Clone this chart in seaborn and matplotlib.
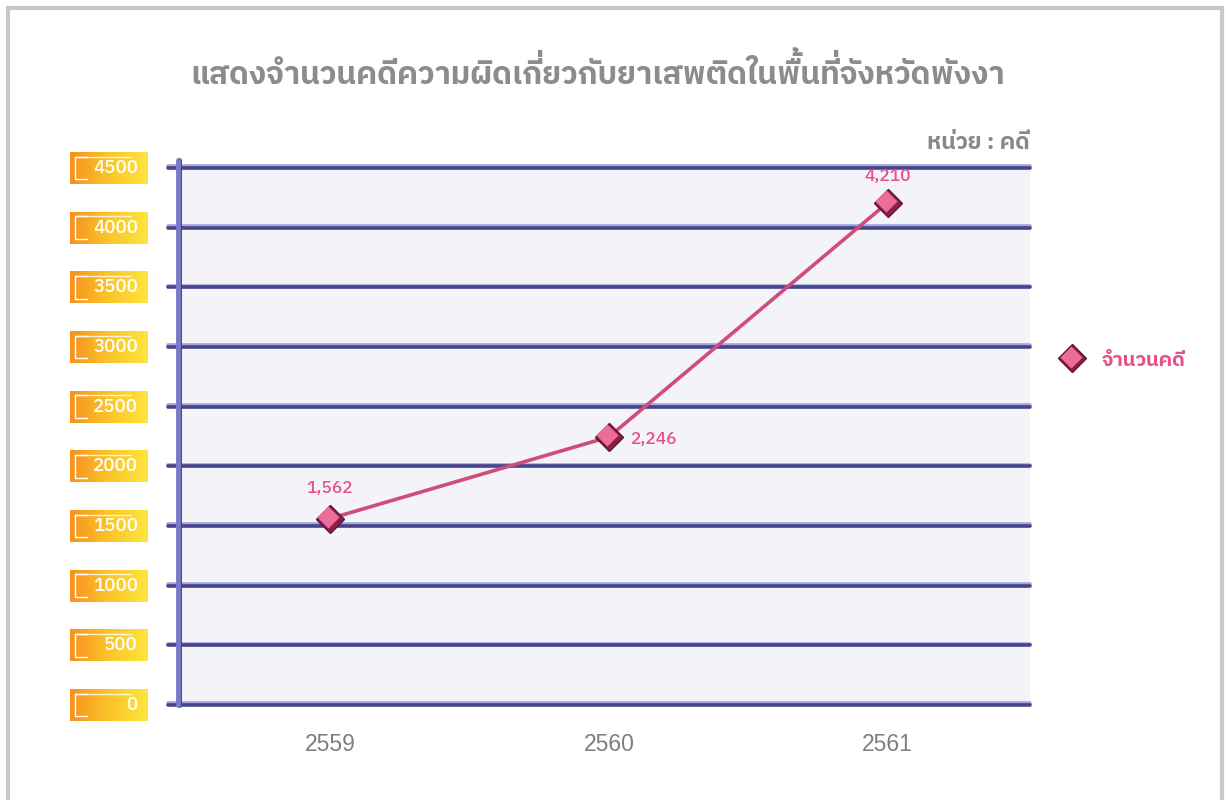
import numpy as np
import pandas as pd
import matplotlib
matplotlib.use('Agg')
import matplotlib.pyplot as plt
import matplotlib.patheffects as pe
import matplotlib.transforms as mtransforms
import seaborn as sns
from matplotlib import font_manager
from matplotlib.font_manager import FontProperties
from matplotlib.ft2font import FT2Font
from matplotlib.colors import LinearSegmentedColormap
from matplotlib.lines import Line2D
from matplotlib.patches import Rectangle

# data
years = ['2559', '2560', '2561']
cases = [1562, 2246, 4210]
case_labels = ['1,562', '2,246', '4,210']
y_ticks = [0, 500, 1000, 1500, 2000, 2500, 3000, 3500, 4000, 4500]
title = 'แสดงจำนวนคดีความผิดเกี่ยวกับยาเสพติดในพื้นที่จังหวัดพังงา'
unit_label = 'หน่วย : คดี'
series_name = 'จำนวนคดี'

W, H = 1226, 800

ABOVE = set('\u0e31\u0e34\u0e35\u0e36\u0e37\u0e47')
TONES = set('\u0e48\u0e49\u0e4a\u0e4b\u0e4c')


def find_thai_font():
    # look for any installed family that has Thai glyphs
    names = []
    for f in font_manager.fontManager.ttflist:
        try:
            cmap = FT2Font(f.fname).get_charmap()
        except Exception:
            continue
        if 0x0E08 in cmap and 0x0E33 in cmap:
            names.append(f.name)
    names.sort(key=lambda n: ('Thai' not in n, 'Looped' in n, n))
    return names[0] if names else 'DejaVu Sans'


def thai_text(fig, x, y, s, fontsize, ha='center', family=None,
              weight='bold', **kw):
    # matplotlib has no Thai shaping: tone marks sitting on an upper vowel
    # would overlap it, so draw them separately a bit higher
    base, marks = '', []
    for i, ch in enumerate(s):
        if ch in TONES and i > 0 and s[i - 1] in ABOVE:
            marks.append((base, ch))
        else:
            base += ch
    renderer = fig.canvas.get_renderer()
    t = fig.text(0, y, base, ha='left', va='baseline', fontsize=fontsize,
                 family=family, fontweight=weight, **kw)
    w = t.get_window_extent(renderer).width
    x0 = x - {'center': w / 2, 'right': w, 'left': 0}[ha]
    t.set_x(x0 / W)
    if marks:
        path = font_manager.findfont(FontProperties(family=family, weight=weight))
        ft = FT2Font(path)
        ft.set_size(fontsize, 100)
        space = ft.load_char(ord(' ')).linearHoriAdvance / 65536
        for prefix, mark in marks:
            adv = 0.0
            for ch in prefix:
                adv += ft.load_char(ord(ch)).linearHoriAdvance / 65536
            # a space carries the zero-width mark so the text has a size
            fig.text((x0 + adv - space) / W, y + 0.22 * fontsize * 100 / 72 / H,
                     ' ' + mark, ha='left', va='baseline', fontsize=fontsize,
                     family=family, fontweight=weight, **kw)
    return t


sns.set_theme(style='white')
thai = find_thai_font()
plt.rcParams['font.family'] = [thai, 'DejaVu Sans']

fig = plt.figure(figsize=(W / 100, H / 100), dpi=100)
fig.patch.set_facecolor('white')

# main plot area
ax = fig.add_axes([178 / W, 1 - 705 / H, (1030 - 178) / W, (705 - 168) / H])
ax.set_facecolor('#f3f3f8')
for s in ax.spines.values():
    s.set_visible(False)

df = pd.DataFrame({'year': years, 'cases': cases})

# grid lines with a light top edge
for v in y_ticks:
    ax.plot([-0.012, 1.0], [v, v], transform=ax.get_yaxis_transform(),
            color='#45458a', lw=2.6, clip_on=False, solid_capstyle='round',
            zorder=1,
            path_effects=[pe.Stroke(offset=(0, 1.2), linewidth=2.6, foreground='#a4a4de'),
                          pe.Normal()])

# vertical axis bar
ax.plot([0, 0], [0, 4570], transform=ax.get_yaxis_transform(),
        color='#7a7ac6', lw=3.5, clip_on=False, solid_capstyle='round', zorder=2,
        path_effects=[pe.Stroke(offset=(1, 0), linewidth=3.5, foreground='#40407e'),
                      pe.Normal()])

sns.lineplot(data=df, x='year', y='cases', ax=ax, sort=False,
             color='#cf4c7c', lw=2.6, marker='D', markersize=14,
             markerfacecolor='#8a2048', markeredgecolor='#5e1633',
             markeredgewidth=1.0, zorder=5)
# lighter face shifted up-left for the raised look
hl = mtransforms.offset_copy(ax.transData, fig=fig, x=-1.5, y=1.5, units='dots')
ax.plot(df['year'], df['cases'], ls='none', marker='D', markersize=11,
        markerfacecolor='#ec6d98', markeredgecolor='none', transform=hl, zorder=6)

label_offsets = [(0, 31, 'center'), (21, -2, 'left'), (0, 27, 'center')]
for yr, val, lab, (dx, dy, ha) in zip(years, cases, case_labels, label_offsets):
    ax.annotate(lab, (yr, val), xytext=(dx, dy), textcoords='offset pixels',
                ha=ha, va='center', color='#e94f89', fontsize=12.5,
                fontweight='medium')

ax.set_xlim(-0.545, 2.51)
ax.set_ylim(0, 4500)
ax.set_yticks([])
ax.set_xlabel('')
ax.set_ylabel('')
ax.tick_params(axis='x', length=0, pad=20)
for t in ax.get_xticklabels():
    t.set_color('#7f7f7f')
    t.set_fontsize(16.5)
    t.set_family(['Liberation Sans', 'DejaVu Sans'])

# orange/yellow tick label boxes
lab_ax = fig.add_axes([70 / W, 1 - 705 / H, 78 / W, 537 / H])
lab_ax.axis('off')
grad = np.linspace(0, 1, 256).reshape(1, -1)
cmap = LinearSegmentedColormap.from_list('oy', ['#f7901e', '#fbc52a', '#fde53c'])
half = 134
for v in y_ticks:
    lab_ax.imshow(grad, cmap=cmap, aspect='auto', extent=[0, 1, v - half, v + half],
                  clip_on=False, zorder=1)
    top = v + half - 40
    bot = v - half + 40
    lab_ax.plot([0.07, 0.07, 0.22], [bot, top, top], color='white', lw=1.0,
                clip_on=False, zorder=2)
    lab_ax.plot([0.07, 0.78], [top, top], color='white', lw=1.0, alpha=0.8,
                clip_on=False, zorder=2)
    lab_ax.plot([0.07, 0.22], [bot, bot], color='white', lw=1.0,
                clip_on=False, zorder=2)
    lab_ax.text(0.87, v, str(v), ha='right', va='center', color='white',
                fontsize=13.5, fontweight='medium', zorder=3)
lab_ax.set_xlim(0, 1)
lab_ax.set_ylim(0, 4500)

# title, unit and legend
thai_text(fig, 598, 1 - 84 / H, title, fontsize=22.5, ha='center',
          family=[thai, 'DejaVu Sans'], weight='heavy', color='#8c8c8c')
thai_text(fig, 1030, 1 - 149 / H, unit_label, fontsize=16.5, ha='right',
          family=[thai, 'DejaVu Sans'], color='#888888')
lx, ly = 1072 / W, 1 - 358 / H
fig.add_artist(Line2D([lx], [ly], marker='D', markersize=14,
                      markerfacecolor='#8a2048', markeredgecolor='#5e1633',
                      markeredgewidth=1.0, transform=fig.transFigure))
fig.add_artist(Line2D([lx - 1.5 / W], [ly + 1.5 / H], marker='D', markersize=11,
                      markerfacecolor='#ec6d98', markeredgecolor='none',
                      transform=fig.transFigure))
thai_text(fig, 1102, 1 - 366 / H, series_name, fontsize=14.5, ha='left',
          family=[thai, 'DejaVu Sans'], color='#e94f89')

# light grey frame
fig.add_artist(Rectangle((8 / W, -0.05), (1222 - 8) / W, 1 - 8 / H + 0.05,
                         fill=False, ec='#c8c8c8', lw=3, transform=fig.transFigure))

fig.savefig('out.png', dpi=100)
